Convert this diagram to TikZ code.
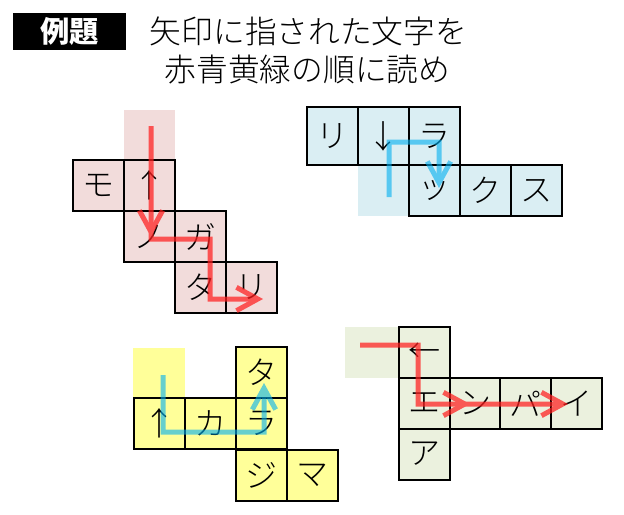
\documentclass[tikz,border=0pt]{standalone}
\usepackage{fontspec}
\IfFontExistsTF{Noto Sans CJK JP Light}
  {\newfontfamily\cjkcell{Noto Sans CJK JP Light}}
  {\newfontfamily\cjkcell{Noto Sans CJK JP}}
\newfontfamily\cjk{Noto Sans CJK JP}
\usetikzlibrary{arrows.meta}
\definecolor{pinkc}{RGB}{242,220,219}
\definecolor{bluec}{RGB}{218,238,243}
\definecolor{yellowc}{RGB}{255,255,153}
\definecolor{greenc}{RGB}{235,241,222}
\definecolor{redline}{RGB}{255,30,30}
\definecolor{blueline}{RGB}{0,176,240}
\tikzset{
  cell/.style={draw=black, line width=1.5pt, minimum width=38.25pt, minimum height=38.25pt, inner sep=0pt, font=\cjkcell\fontsize{24}{24}\selectfont},
  tallcell/.style={cell, minimum height=43.5pt},
  barb/.tip={Straight Barb[length=16pt,width=17.5pt,line width=3.75pt]},
  redarrow/.style={draw=redline, line width=3.75pt},
  bluearrow/.style={draw=blueline, line width=3.75pt},
  titlefont/.style={font=\cjkcell\fontsize{23.8}{24}\selectfont}
}
\begin{document}
\begin{tikzpicture}[x=0.75pt,y=-0.75pt]
\useasboundingbox (0,0) rectangle (624,514);
% header
\node[fill=black, text=white, minimum width=84.75pt, minimum height=27.75pt, inner sep=0pt, font=\cjk\bfseries\fontsize{22}{22}\selectfont] (label) at (69.5,31.5) {例題};
\node[titlefont, inner sep=0pt] (title1) at (308.5,31.5) {矢印に指された文字を};
\node[titlefont, inner sep=0pt] (title2) at (307.5,69.5) {赤青黄緑の順に読め};

% ---- puzzle 1 (pink)
\fill[pinkc] (124,110) rectangle (175,160);
\node[cell, fill=pinkc] (p1a) at (98.5,185.5) {モ};
\node[cell, fill=pinkc] (p1b) at (149.5,185.5) {↑};
\node[cell, fill=pinkc] (p1c) at (149.5,236.5) {ノ};
\node[cell, fill=pinkc] (p1d) at (200.5,236.5) {ガ};
\node[cell, fill=pinkc] (p1e) at (200.5,287.5) {タ};
\node[cell, fill=pinkc] (p1f) at (251.5,287.5) {リ};
\begin{scope}[transparency group, opacity=0.72]
\draw[redarrow, -{barb}] (151,126) -- (151,237);
\draw[redarrow, -{barb}] (151,228) -- (151,239) -- (210,239) -- (210,299) -- (263,299);
\end{scope}

% ---- puzzle 2 (blue)
\fill[bluec] (357.5,165) rectangle (408.5,216);
\node[tallcell, fill=bluec] (p2a) at (332,136) {リ};
\node[tallcell, fill=bluec] (p2b) at (383,136) {↓};
\node[tallcell, fill=bluec] (p2c) at (434,136) {ラ};
\node[cell, fill=bluec] (p2d) at (434,190.5) {ッ};
\node[cell, fill=bluec] (p2e) at (485.5,190.5) {ク};
\node[cell, fill=bluec] (p2f) at (536.5,190.5) {ス};
\begin{scope}[transparency group, opacity=0.6]
\draw[bluearrow, -{barb}] (389,197) -- (389,142) -- (439,142) -- (439,188);
\end{scope}

% ---- puzzle 3 (yellow)
\fill[yellowc] (133,348) rectangle (185,397);
\node[cell, fill=yellowc] (p3a) at (159,423) {↑};
\node[cell, fill=yellowc] (p3b) at (210.5,423) {カ};
\node[cell, fill=yellowc] (p3c) at (261.5,423) {ラ};
\node[cell, fill=yellowc] (p3d) at (261.5,372) {タ};
\node[cell, fill=yellowc] (p3e) at (261.5,475) {ジ};
\node[cell, fill=yellowc] (p3f) at (312.5,475) {マ};
\begin{scope}[transparency group, opacity=0.6]
\draw[bluearrow, -{barb}] (163,375) -- (163,432) -- (264,432) -- (264,383);
\end{scope}

% ---- puzzle 4 (green)
\fill[greenc] (345,327) rectangle (398,378);
\node[cell, fill=greenc] (p4a) at (424,352.5) {←};
\node[cell, fill=greenc] (p4b) at (424,403.5) {エ};
\node[cell, fill=greenc] (p4c) at (424,454) {ア};
\node[cell, fill=greenc] (p4d) at (475,403.5) {ン};
\node[cell, fill=greenc] (p4e) at (525.5,403.5) {パ};
\node[cell, fill=greenc] (p4f) at (576.5,403.5) {イ};
\begin{scope}[transparency group, opacity=0.72]
\draw[redarrow, -{barb}] (360,345) -- (418,345) -- (418,404) -- (470,404);
\draw[redarrow, -{barb}] (460,404) -- (568,404);
\end{scope}
\end{tikzpicture}
\end{document}
